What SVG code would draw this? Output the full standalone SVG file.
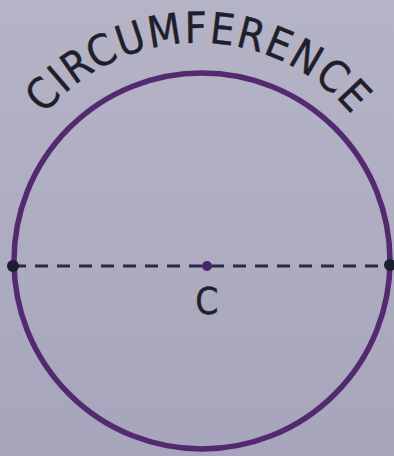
<svg xmlns="http://www.w3.org/2000/svg" width="394" height="456" viewBox="0 0 394 456">
  <defs>
    <linearGradient id="bg" x1="0" y1="0" x2="0" y2="1">
      <stop offset="0" stop-color="#b5b4c7"/>
      <stop offset="1" stop-color="#a6a5bb"/>
    </linearGradient>
    <path id="arc" d="M 35 127 A 200 200 0 0 1 361 127"/>
    <style>
      .circ { fill: none; stroke: #53296f; stroke-width: 5.5; }
      .dash { stroke: #2a2946; stroke-width: 3; stroke-dasharray: 13 9; }
      .lbl { font-family: "Liberation Sans Narrow", "DejaVu Sans Condensed", "Liberation Sans", Arial, sans-serif; fill: #1f1f2b; stroke: #1f1f2b; stroke-width: 0.4; }
    </style>
  </defs>
  <rect width="394" height="456" fill="url(#bg)"/>
  <g id="circle">
    <circle class="circ" cx="202" cy="261" r="188"/>
  </g>
  <g id="connectors">
    <line class="dash" x1="13" y1="266" x2="390" y2="266"/>
  </g>
  <g id="left-point"><circle cx="13" cy="266" r="6" fill="#1e1d33"/></g>
  <g id="right-point"><circle cx="390" cy="265" r="6" fill="#1e1d33"/></g>
  <g id="center">
    <circle cx="207" cy="266" r="5" fill="#4a2468"/>
    <text class="lbl" x="207" y="314" font-size="37" text-anchor="middle">C</text>
  </g>
  <g id="circumference-label">
    <text class="lbl" font-size="43" text-anchor="middle"><textPath href="#arc" startOffset="50%" textLength="350" lengthAdjust="spacing">CIRCUMFERENCE</textPath></text>
  </g>
</svg>
